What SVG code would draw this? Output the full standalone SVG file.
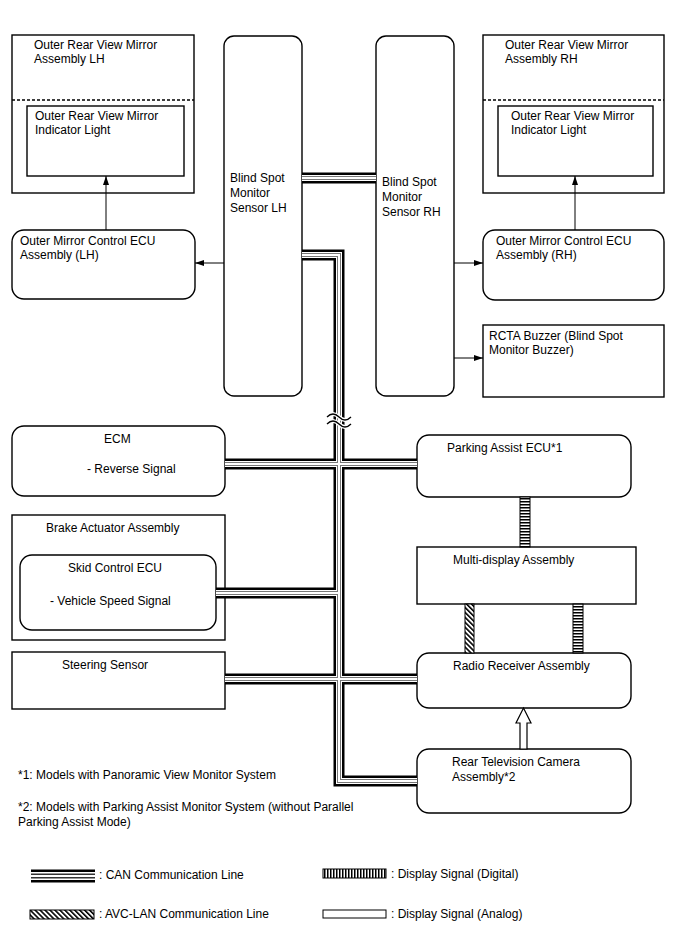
<svg xmlns="http://www.w3.org/2000/svg" width="688" height="949" viewBox="0 0 688 949">
<style>
text{font-family:"Liberation Sans",Arial,sans-serif;font-size:12px;fill:#000}
.box{fill:#fff;stroke:#000;stroke-width:1.4}
.dash{fill:none;stroke:#000;stroke-width:1.4;stroke-dasharray:3,2}
.arr{fill:none;stroke:#000;stroke-width:1;marker-end:url(#ah)}
.c1{fill:none;stroke:#000;stroke-width:11;stroke-linejoin:miter}
.c2{fill:none;stroke:#fff;stroke-width:6;stroke-linejoin:miter}
.c3{fill:none;stroke:#777;stroke-width:4;stroke-linejoin:miter}
.c4{fill:none;stroke:#fff;stroke-width:2;stroke-linejoin:miter}
.bar{stroke:#000;stroke-width:1}
</style>
<defs>
<marker id="ah" markerWidth="9" markerHeight="6" refX="9" refY="3" orient="auto" markerUnits="userSpaceOnUse">
<path d="M0,0 L9,3 L0,6 Z" fill="#000"/>
</marker>
<pattern id="hs" width="6" height="3" patternUnits="userSpaceOnUse"><rect width="6" height="3" fill="#fff"/><rect width="6" height="1.5" fill="#000"/></pattern>
<pattern id="vs" width="3" height="6" patternUnits="userSpaceOnUse"><rect width="3" height="6" fill="#fff"/><rect width="1.5" height="6" fill="#000"/></pattern>
<pattern id="dg" width="3.5" height="6" patternUnits="userSpaceOnUse" patternTransform="rotate(-45)"><rect width="3.5" height="6" fill="#fff"/><rect width="1.6" height="6" fill="#000"/></pattern>
</defs>

<g id="mirror-lh">
<rect class="box" x="12" y="35" width="182" height="158"/>
<line class="dash" x1="12" y1="100" x2="194" y2="100"/>
<text x="34" y="49">Outer Rear View Mirror</text>
<text x="34" y="63">Assembly LH</text>
</g>
<g id="indicator-lh">
<rect class="box" x="27" y="106" width="157" height="70"/>
<text x="35" y="120">Outer Rear View Mirror</text>
<text x="35" y="134">Indicator Light</text>
</g>
<g id="mirror-rh">
<rect class="box" x="483" y="35" width="181" height="158"/>
<line class="dash" x1="483" y1="100" x2="664" y2="100"/>
<text x="505" y="49">Outer Rear View Mirror</text>
<text x="505" y="63">Assembly RH</text>
</g>
<g id="indicator-rh">
<rect class="box" x="498" y="106" width="155" height="70"/>
<text x="511" y="120">Outer Rear View Mirror</text>
<text x="511" y="134">Indicator Light</text>
</g>
<g id="bsm-lh">
<rect class="box" x="224" y="36" width="78" height="360" rx="10"/>
<text x="230" y="182">Blind Spot</text>
<text x="230" y="197">Monitor</text>
<text x="230" y="212">Sensor LH</text>
</g>
<g id="bsm-rh">
<rect class="box" x="376" y="36" width="78" height="360" rx="10"/>
<text x="382" y="186">Blind Spot</text>
<text x="382" y="201">Monitor</text>
<text x="382" y="216">Sensor RH</text>
</g>
<g id="ecu-lh">
<rect class="box" x="12" y="230" width="183" height="69" rx="12"/>
<text x="20" y="245">Outer Mirror Control ECU</text>
<text x="20" y="259">Assembly (LH)</text>
</g>
<g id="ecu-rh">
<rect class="box" x="483" y="230" width="181" height="70" rx="12"/>
<text x="496" y="245">Outer Mirror Control ECU</text>
<text x="496" y="259">Assembly (RH)</text>
</g>
<g id="rcta">
<rect class="box" x="483" y="325" width="181" height="72"/>
<text x="489" y="340">RCTA Buzzer (Blind Spot</text>
<text x="489" y="354">Monitor Buzzer)</text>
</g>
<g id="ecm">
<rect class="box" x="12" y="426" width="213" height="70" rx="12"/>
<text x="104" y="443">ECM</text>
<text x="87" y="473">- Reverse Signal</text>
</g>
<g id="brake">
<rect class="box" x="12" y="515" width="213" height="125"/>
<text x="46" y="532">Brake Actuator Assembly</text>
</g>
<g id="skid">
<rect class="box" x="20" y="555" width="196" height="75" rx="12"/>
<text x="68" y="572">Skid Control ECU</text>
<text x="50" y="605">- Vehicle Speed Signal</text>
</g>
<g id="steering">
<rect class="box" x="12" y="652" width="213" height="57"/>
<text x="62" y="669">Steering Sensor</text>
</g>
<g id="parking">
<rect class="box" x="417" y="435" width="214" height="62" rx="12"/>
<text x="447" y="452">Parking Assist ECU*1</text>
</g>
<g id="multi">
<rect class="box" x="417" y="547" width="219" height="57"/>
<text x="453" y="564">Multi-display Assembly</text>
</g>
<g id="radio">
<rect class="box" x="417" y="653" width="214" height="55" rx="12"/>
<text x="453" y="670">Radio Receiver Assembly</text>
</g>
<g id="camera">
<rect class="box" x="417" y="749" width="214" height="64" rx="12"/>
<text x="452" y="766">Rear Television Camera</text>
<text x="452" y="781">Assembly*2</text>
</g>

<g id="connectors">
<g id="can">
<path class="c1" d="M302,178 H376 M302,255 H339 V781 H417 M225,464 H417 M216,593 H339 M225,679 H417"/>
<path class="c2" d="M302,178 H376 M302,255 H339 V781 H417 M225,464 H417 M216,593 H339 M225,679 H417"/>
<path class="c3" d="M302,178 H376 M302,255 H339 V781 H417 M225,464 H417 M216,593 H339 M225,679 H417"/>
<path class="c4" d="M302,178 H376 M302,255 H339 V781 H417 M225,464 H417 M216,593 H339 M225,679 H417"/>
<path d="M327,417 q6,-6 12,0 t12,0 M327,424 q6,-6 12,0 t12,0" fill="none" stroke="#fff" stroke-width="4"/>
<path d="M327,417 q6,-6 12,0 t12,0 M327,424 q6,-6 12,0 t12,0" fill="none" stroke="#000" stroke-width="1.3"/>
</g>
<line class="arr" x1="224" y1="263" x2="195" y2="263"/>
<line class="arr" x1="454" y1="263" x2="483" y2="263"/>
<line class="arr" x1="454" y1="358" x2="483" y2="358"/>
<line class="arr" x1="106" y1="230" x2="106" y2="176"/>
<line class="arr" x1="575" y1="230" x2="575" y2="176"/>
<rect class="bar" x="520" y="497" width="10" height="50" fill="url(#hs)"/>
<rect class="bar" x="465" y="604" width="9" height="49" fill="url(#dg)"/>
<rect class="bar" x="573" y="604" width="10" height="49" fill="url(#hs)"/>
<path d="M520,749 V723 H516 L523.5,708 L531,723 H527 V749 Z" fill="#fff" stroke="#000" stroke-width="1.2"/>
</g>

<g id="notes">
<text x="18" y="779">*1: Models with Panoramic View Monitor System</text>
<text x="18" y="811">*2: Models with Parking Assist Monitor System (without Parallel</text>
<text x="18" y="826">Parking Assist Mode)</text>
</g>

<g id="legend">
<line x1="31" y1="876" x2="95" y2="876" stroke="#000" stroke-width="13"/>
<line x1="31" y1="876" x2="95" y2="876" stroke="#fff" stroke-width="8"/>
<line x1="31" y1="876" x2="95" y2="876" stroke="#333" stroke-width="5"/>
<line x1="31" y1="876" x2="95" y2="876" stroke="#fff" stroke-width="2"/>
<text x="99" y="879">: CAN Communication Line</text>
<rect class="bar" x="30" y="910" width="64" height="9" fill="url(#dg)"/>
<text x="99" y="918">: AVC-LAN Communication Line</text>
<rect class="bar" x="323" y="869" width="63" height="9" fill="url(#vs)"/>
<text x="391" y="878">: Display Signal (Digital)</text>
<rect class="bar" x="323" y="910" width="63" height="8" fill="#fff"/>
<text x="391" y="918">: Display Signal (Analog)</text>
</g>
</svg>
